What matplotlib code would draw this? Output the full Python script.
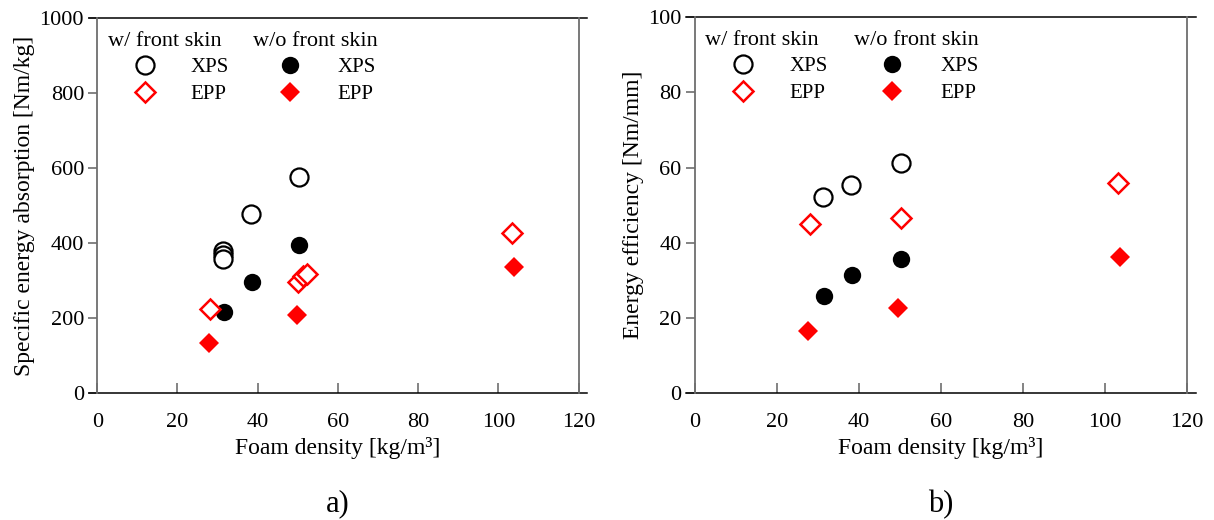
import numpy as np
import matplotlib
matplotlib.use('Agg')
import matplotlib.pyplot as plt

plt.rcParams['font.family'] = ['Liberation Serif', 'DejaVu Serif']

# a) specific energy absorption [Nm/kg]
sea_xps_w_x = [31.4, 31.4, 31.4, 38.3, 50.3]
sea_xps_w_y = [380, 369, 358, 479, 577]
sea_xps_wo_x = [31.6, 38.5, 50.3]
sea_xps_wo_y = [217, 297, 395]
sea_epp_w_x = [28.1, 50.1, 51.4, 52.2, 103.4]
sea_epp_w_y = [226, 297, 312, 318, 428]
sea_epp_wo_x = [27.9, 49.7, 103.9]
sea_epp_wo_y = [133, 209, 336]

# b) energy efficiency [Nm/mm]
ee_xps_w_x = [31.4, 38.1, 50.2]
ee_xps_w_y = [52.3, 55.3, 61.3]
ee_xps_wo_x = [31.6, 38.4, 50.2]
ee_xps_wo_y = [25.8, 31.5, 35.7]
ee_epp_w_x = [28.1, 50.2, 103.2]
ee_epp_w_y = [45.1, 46.6, 55.8]
ee_epp_wo_x = [27.7, 49.5, 103.7]
ee_epp_wo_y = [16.6, 22.8, 36.2]

xticks = [0, 20, 40, 60, 80, 100, 120]
sea_yticks = [0, 200, 400, 600, 800, 1000]
ee_yticks = [0, 20, 40, 60, 80, 100]

RED = '#ff0000'
GRAY = '#6e6e6e'
FS = 17
TFS = 16

fig = plt.figure(figsize=(12.14, 5.2), dpi=100)
ax1 = fig.add_axes([0.0801, 0.2437, 0.3965, 0.7212])
ax2 = fig.add_axes([0.5722, 0.2437, 0.4055, 0.7231])

circ_o = dict(marker='o', ms=13, mfc='white', mec='black', mew=1.6, ls='none')
circ_f = dict(marker='o', ms=12.5, mfc='black', mec='black', mew=0, ls='none')
dia_o = dict(marker='D', ms=10.3, mfc='white', mec=RED, mew=1.8, ls='none')
dia_f = dict(marker='D', ms=10.5, mfc=RED, mec=RED, mew=0, ls='none')


def style(ax, yticks, ylabel, tag):
    ax.set_xlim(0, 120)
    ax.set_ylim(yticks[0], yticks[-1])
    ax.set_xticks(xticks)
    ax.set_yticks(yticks)
    ax.tick_params(axis='x', direction='in', length=7, width=1.2, color=GRAY,
                   labelsize=TFS, pad=14)
    ax.tick_params(axis='y', direction='out', length=6.5, width=1.2, color=GRAY,
                   labelsize=TFS, pad=3)
    for s in ['left', 'right']:
        ax.spines[s].set_color(GRAY)
        ax.spines[s].set_linewidth(1.3)
    ax.spines['top'].set_visible(False)
    ax.spines['bottom'].set_visible(False)
    for yy in (0, 1):
        ax.plot([-0.018, 1.018], [yy, yy], color='black', lw=1.1,
                transform=ax.transAxes, clip_on=False)
    ax.set_xlabel('Foam density [kg/m³]', fontsize=FS, labelpad=4)
    ax.set_ylabel(ylabel, fontsize=FS, labelpad=3)
    ax.text(0.5, -0.295, tag, transform=ax.transAxes, ha='center', va='center',
            fontsize=22)
    # legend
    t = ax.transAxes
    ax.text(0.022, 0.937, 'w/ front skin', transform=t, fontsize=16, va='center')
    ax.text(0.324, 0.937, 'w/o front skin', transform=t, fontsize=16, va='center')
    ax.plot([0.099], [0.8755], transform=t, **circ_o)
    ax.plot([0.099], [0.803], transform=t, **dia_o)
    ax.plot([0.401], [0.8755], transform=t, **circ_f)
    ax.plot([0.401], [0.803], transform=t, **dia_f)
    for xx in (0.193, 0.4985):
        ax.text(xx, 0.870, 'XPS', transform=t, fontsize=15, va='center')
        ax.text(xx, 0.798, 'EPP', transform=t, fontsize=15, va='center')


ax1.plot(sea_xps_w_x, sea_xps_w_y, **circ_o)
ax1.plot(sea_xps_wo_x, sea_xps_wo_y, **circ_f)
ax1.plot(sea_epp_w_x, sea_epp_w_y, **dia_o)
ax1.plot(sea_epp_wo_x, sea_epp_wo_y, **dia_f)
style(ax1, sea_yticks, 'Specific energy absorption [Nm/kg]', 'a)')

ax2.plot(ee_xps_w_x, ee_xps_w_y, **circ_o)
ax2.plot(ee_xps_wo_x, ee_xps_wo_y, **circ_f)
ax2.plot(ee_epp_w_x, ee_epp_w_y, **dia_o)
ax2.plot(ee_epp_wo_x, ee_epp_wo_y, **dia_f)
style(ax2, ee_yticks, 'Energy efficiency [Nm/mm]', 'b)')

plt.savefig('out.png', dpi=100)
